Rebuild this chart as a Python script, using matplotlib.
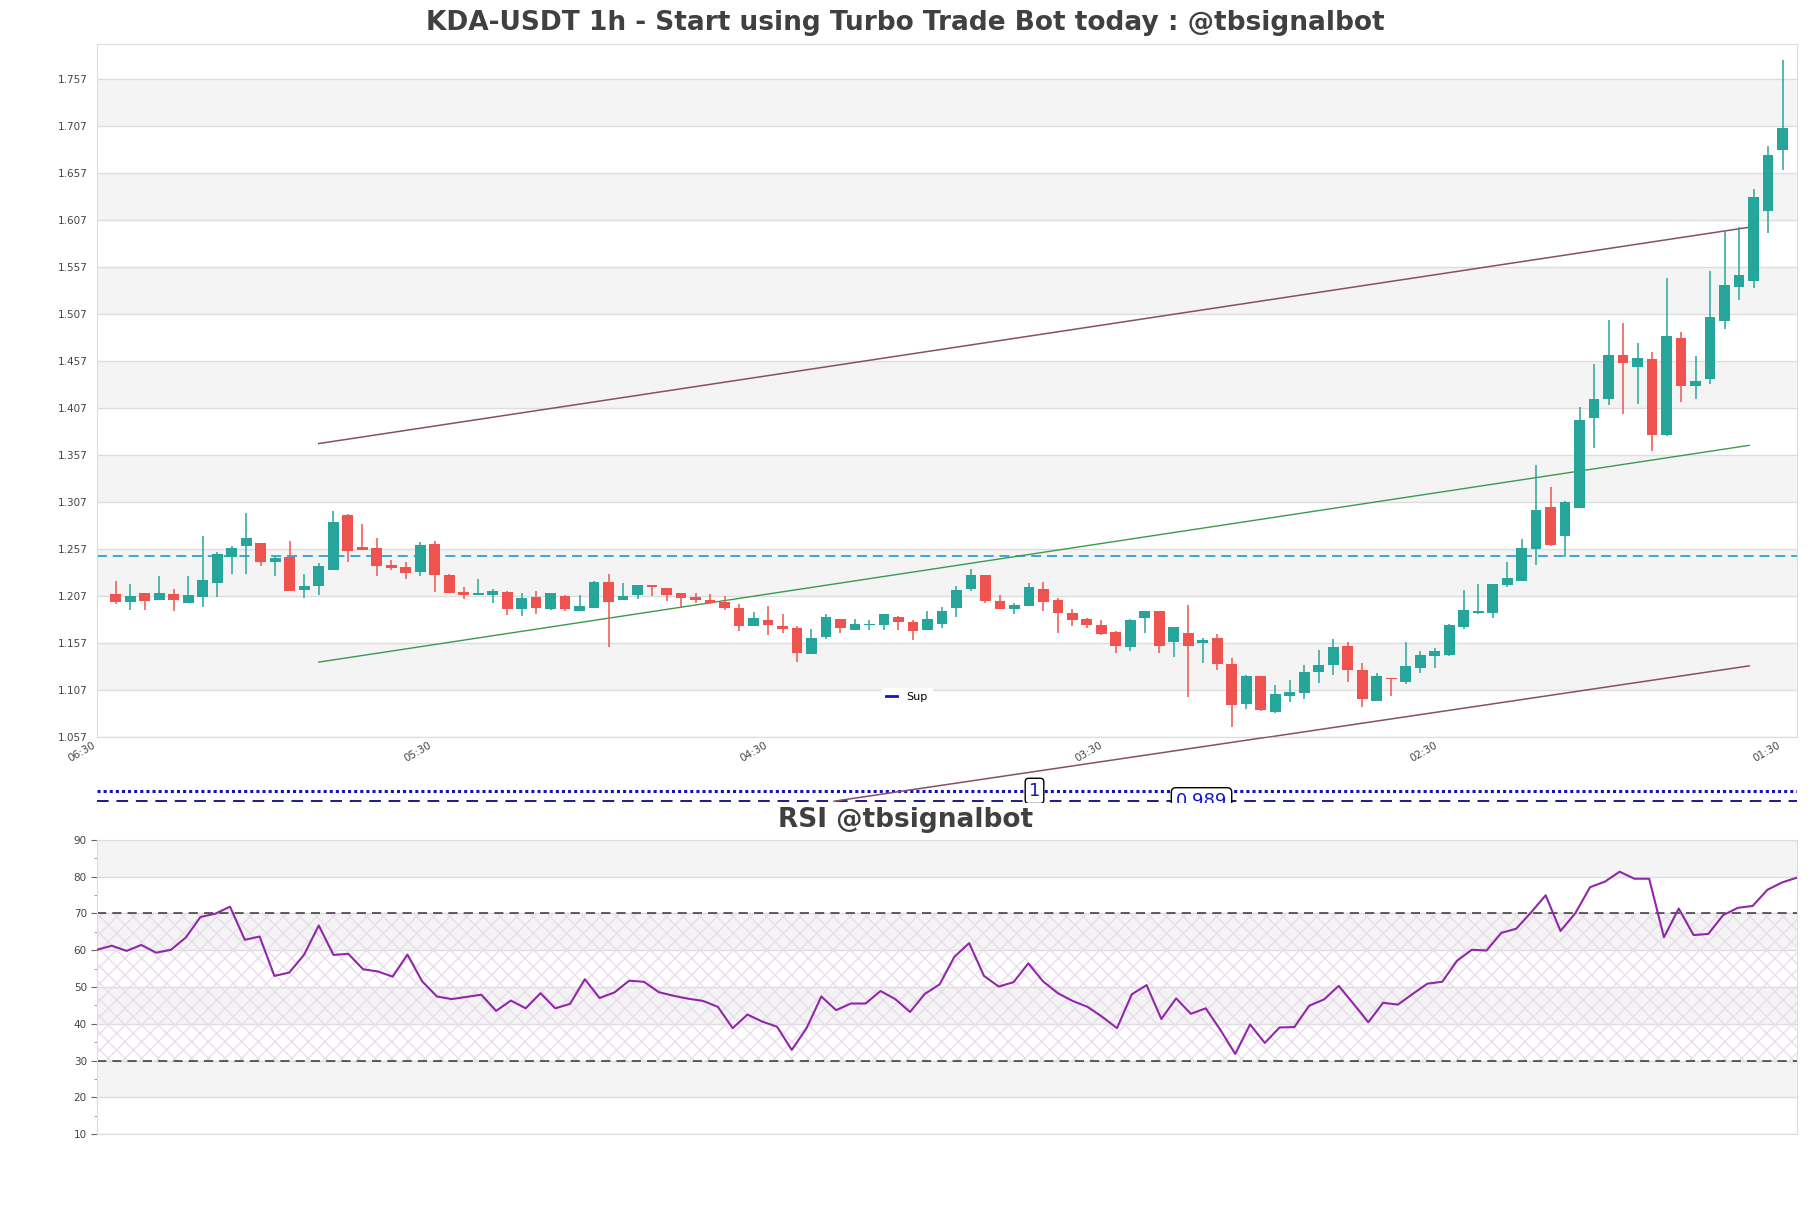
import matplotlib
matplotlib.use('Agg')
import matplotlib.pyplot as plt
from matplotlib.lines import Line2D
import numpy as np

# ---------------- data ----------------
opens = [1.209, 1.201, 1.211, 1.203, 1.209, 1.200, 1.206, 1.221, 1.249, 1.260,
         1.264, 1.243, 1.249, 1.214, 1.218, 1.235, 1.293, 1.259, 1.258, 1.240,
         1.238, 1.233, 1.263, 1.230, 1.212, 1.208, 1.208, 1.212, 1.193, 1.206,
         1.194, 1.207, 1.191, 1.195, 1.222, 1.203, 1.208, 1.219, 1.216, 1.210,
         1.206, 1.203, 1.201, 1.195, 1.175, 1.182, 1.175, 1.173, 1.146, 1.164,
         1.183, 1.171, 1.176, 1.176, 1.185, 1.180, 1.171, 1.178, 1.195, 1.215,
         1.230, 1.202, 1.194, 1.197, 1.215, 1.203, 1.189, 1.183, 1.177, 1.169,
         1.153, 1.184, 1.191, 1.158, 1.168, 1.157, 1.163, 1.135, 1.092, 1.122,
         1.084, 1.101, 1.104, 1.127, 1.134, 1.154, 1.129, 1.096, 1.120, 1.116,
         1.131, 1.144, 1.145, 1.174, 1.189, 1.189, 1.219, 1.223, 1.257, 1.302,
         1.271, 1.301, 1.397, 1.417, 1.464, 1.451, 1.459, 1.379, 1.482, 1.431,
         1.438, 1.500, 1.536, 1.542, 1.617, 1.682]
highs = [1.223, 1.220, 1.211, 1.229, 1.215, 1.229, 1.271, 1.254, 1.261, 1.296,
         1.264, 1.250, 1.266, 1.231, 1.242, 1.298, 1.295, 1.284, 1.269, 1.246,
         1.244, 1.265, 1.266, 1.231, 1.217, 1.225, 1.215, 1.213, 1.210, 1.213,
         1.210, 1.208, 1.208, 1.223, 1.231, 1.221, 1.219, 1.219, 1.216, 1.211,
         1.210, 1.209, 1.207, 1.199, 1.190, 1.197, 1.188, 1.175, 1.172, 1.188,
         1.183, 1.183, 1.182, 1.188, 1.186, 1.182, 1.191, 1.196, 1.218, 1.236,
         1.230, 1.208, 1.200, 1.221, 1.222, 1.205, 1.193, 1.184, 1.182, 1.170,
         1.183, 1.191, 1.191, 1.174, 1.198, 1.163, 1.167, 1.141, 1.123, 1.122,
         1.113, 1.118, 1.134, 1.150, 1.162, 1.158, 1.136, 1.125, 1.120, 1.158,
         1.149, 1.152, 1.178, 1.214, 1.220, 1.220, 1.244, 1.268, 1.347, 1.323,
         1.308, 1.408, 1.454, 1.501, 1.498, 1.477, 1.467, 1.546, 1.488, 1.463,
         1.553, 1.596, 1.600, 1.640, 1.686, 1.778]
lows = [1.199, 1.192, 1.192, 1.203, 1.191, 1.200, 1.196, 1.206, 1.231, 1.231,
        1.239, 1.229, 1.213, 1.205, 1.208, 1.235, 1.243, 1.256, 1.229, 1.235,
        1.225, 1.229, 1.212, 1.210, 1.204, 1.208, 1.200, 1.187, 1.186, 1.188,
        1.192, 1.191, 1.191, 1.195, 1.153, 1.203, 1.204, 1.207, 1.202, 1.195,
        1.200, 1.199, 1.192, 1.170, 1.175, 1.166, 1.168, 1.137, 1.146, 1.162,
        1.168, 1.171, 1.171, 1.171, 1.171, 1.161, 1.171, 1.173, 1.185, 1.213,
        1.200, 1.193, 1.188, 1.197, 1.191, 1.168, 1.175, 1.173, 1.166, 1.147,
        1.149, 1.168, 1.147, 1.142, 1.100, 1.136, 1.129, 1.068, 1.087, 1.085,
        1.083, 1.095, 1.098, 1.115, 1.123, 1.116, 1.089, 1.096, 1.101, 1.114,
        1.125, 1.131, 1.143, 1.172, 1.188, 1.184, 1.217, 1.223, 1.240, 1.261,
        1.249, 1.301, 1.365, 1.410, 1.401, 1.412, 1.362, 1.378, 1.414, 1.417,
        1.433, 1.491, 1.522, 1.535, 1.593, 1.660]
closes = [1.201, 1.207, 1.202, 1.211, 1.203, 1.208, 1.224, 1.252, 1.258, 1.269,
          1.244, 1.248, 1.213, 1.218, 1.239, 1.286, 1.255, 1.256, 1.239, 1.237,
          1.232, 1.262, 1.230, 1.210, 1.208, 1.211, 1.213, 1.194, 1.205, 1.195,
          1.210, 1.193, 1.197, 1.222, 1.201, 1.207, 1.219, 1.217, 1.208, 1.205,
          1.203, 1.200, 1.195, 1.175, 1.184, 1.177, 1.172, 1.147, 1.163, 1.185,
          1.173, 1.178, 1.178, 1.188, 1.180, 1.170, 1.183, 1.191, 1.214, 1.230,
          1.202, 1.193, 1.198, 1.217, 1.201, 1.189, 1.182, 1.176, 1.167, 1.154,
          1.182, 1.191, 1.154, 1.174, 1.154, 1.160, 1.135, 1.091, 1.122, 1.086,
          1.103, 1.105, 1.127, 1.134, 1.153, 1.129, 1.098, 1.122, 1.119, 1.133,
          1.145, 1.149, 1.176, 1.192, 1.191, 1.220, 1.227, 1.258, 1.299, 1.262,
          1.307, 1.395, 1.417, 1.464, 1.455, 1.460, 1.379, 1.484, 1.431, 1.436,
          1.504, 1.538, 1.549, 1.632, 1.677, 1.705]
rsi = [60.1, 61.2, 59.8, 61.4, 59.3, 60.1, 63.4, 69.0, 69.9, 71.8,
       62.8, 63.7, 53.0, 53.9, 58.7, 66.7, 58.7, 59.0, 54.8, 54.2,
       52.8, 58.8, 51.5, 47.4, 46.7, 47.3, 47.9, 43.5, 46.3, 44.2,
       48.3, 44.2, 45.4, 52.1, 47.0, 48.5, 51.7, 51.4, 48.6, 47.6,
       46.8, 46.2, 44.6, 38.8, 42.5, 40.6, 39.2, 32.9, 38.8, 47.4,
       43.7, 45.5, 45.5, 48.9, 46.7, 43.2, 48.1, 50.7, 58.2, 61.9,
       53.0, 50.1, 51.3, 56.4, 51.5, 48.3, 46.2, 44.6, 41.9, 38.8,
       48.0, 50.5, 41.3, 46.9, 42.7, 44.2, 38.3, 31.8, 39.8, 34.8,
       39.0, 39.1, 44.9, 46.6, 50.3, 45.4, 40.4, 45.7, 45.2, 48.1,
       50.9, 51.4, 57.1, 60.1, 59.9, 64.7, 65.8, 70.2, 74.9, 65.2,
       70.0, 77.1, 78.6, 81.3, 79.4, 79.4, 63.5, 71.3, 64.1, 64.4,
       69.5, 71.5, 72.0, 76.4, 78.4, 79.7]

time_labels = ['06:30', '05:30', '04:30', '03:30', '02:30', '01:30']
time_tick_pos = [-1.3, 21.9, 45.1, 68.2, 91.3, 115.0]
price_ticks = [round(1.057 + 0.05 * k, 3) for k in range(15)]
rsi_ticks = [10, 20, 30, 40, 50, 60, 70, 80, 90]

resistance_level = 1.25
upper_x, upper_y = [14, 112.7], [1.3695, 1.5996]
middle_x, middle_y = [14, 112.7], [1.137, 1.3676]
lower_x, lower_y = [49.7, 112.7], [0.989, 1.133]
level_one = 1.0
level_two = 0.989
level_one_x = 63.5
level_two_x = 75.0

# ---------------- figure ----------------
W, H = 1811, 1208
fig = plt.figure(figsize=(W / 100, H / 100), dpi=100)
fig.patch.set_facecolor('white')

def fx(px):
    return px / W

def fy(py):
    return 1 - py / H

left, right = 97, 1797
main_top, main_bot = 44, 737.3
ax = fig.add_axes([fx(left), fy(main_bot), fx(right - left), (main_bot - main_top) / H])

UP, DOWN = '#26a69a', '#ef5350'
n = len(opens)
x = np.arange(n)
o = np.array(opens); c = np.array(closes); h = np.array(highs); l = np.array(lows)
colors = [UP if cc >= oo else DOWN for oo, cc in zip(o, c)]
bottoms = np.minimum(o, c)
heights = np.maximum(np.abs(c - o), 0.0015)
ax.vlines(x, l, h, colors=colors, linewidth=1.1, zorder=3)
ax.bar(x, heights, bottom=bottoms, width=0.74, color=colors, linewidth=0, zorder=4)

ylo = 1.057
yhi = 1.057 + (main_bot - main_top) * 0.05 / 47.0
ax.set_ylim(ylo, yhi)
xlo, xhi = -1.05, 116.0
ax.set_xlim(xlo, xhi)

for k in range(7):
    ax.axhspan(1.107 + 0.1 * k, 1.157 + 0.1 * k, color='#f4f4f4', zorder=0, lw=0)
ax.set_yticks(price_ticks)
ax.set_yticklabels([f'{t:.3f}' for t in price_ticks])
ax.grid(axis='y', color='#dddddd', linewidth=1, zorder=1)
ax.set_axisbelow(True)
ax.tick_params(axis='y', length=0, pad=7, labelsize=7.5, labelcolor='#444444')
ax.set_xticks(time_tick_pos)
ax.set_xticklabels(time_labels, rotation=30, ha='right')
ax.tick_params(axis='x', length=0, pad=2, labelsize=7.5, labelcolor='#444444')
for s in ax.spines.values():
    s.set_color('#dddddd')

ax.axhline(resistance_level, color='#2196d8', linestyle=(0, (6, 3.5)), linewidth=1.2, zorder=2)
ax.plot(upper_x, upper_y, color='#875064', linewidth=1.1, zorder=2)
ax.plot(middle_x, middle_y, color='#3a9a50', linewidth=1.0, zorder=2)
ax.plot(lower_x, lower_y, color='#875064', linewidth=1.1, zorder=2)

# strip below the main chart (levels drawn in the price scale, clipped)
mid_bot = 803.3
ax_mid = fig.add_axes([fx(left), fy(mid_bot), fx(right - left), (mid_bot - main_bot) / H])
ax_mid.set_xlim(xlo, xhi)
ax_mid.set_ylim(ylo - (mid_bot - main_bot) * 0.05 / 47.0, ylo)
ax_mid.axis('off')
ax_mid.patch.set_alpha(0)
ax_mid.axhline(level_one, color='#1414b4', linestyle=(0, (1, 1)), linewidth=2.2)
ax_mid.axhline(level_two, color='#1a1a8c', linestyle=(0, (6, 4)), linewidth=1.4)
ax_mid.plot(lower_x, lower_y, color='#875064', linewidth=1.1)
ax_mid.text(level_one_x, level_one, '1', color='#1414c8', fontsize=13, ha='center', va='center',
            bbox=dict(boxstyle='round,pad=0.2', facecolor='white', edgecolor='black', linewidth=1),
            clip_on=True)
ax_mid.text(level_two_x, level_two, '0.989', color='#1414c8', fontsize=13, ha='center', va='center',
            bbox=dict(boxstyle='round,pad=0.25', facecolor='white', edgecolor='black', linewidth=1),
            clip_on=True)

fig.legend(handles=[Line2D([0], [0], color='#1414c8', linewidth=2)], labels=['Sup'],
           loc='center', bbox_to_anchor=(fx(907), fy(697)), fontsize=8, frameon=True,
           framealpha=1, edgecolor='white', facecolor='white', handlelength=1.0,
           handletextpad=0.8, borderpad=0.4)

fig.text(0.5, fy(23), 'KDA-USDT 1h - Start using Turbo Trade Bot today : @tbsignalbot',
         ha='center', va='center', fontsize=19, fontweight='bold', color='#404040')

# ---------------- RSI ----------------
r_top, r_bot = 839.7, 1134.2
axr = fig.add_axes([fx(left), fy(r_bot), fx(right - left), (r_bot - r_top) / H])
axr.set_xlim(0, n - 1)
axr.set_ylim(10, 90)
for lo_ in [20, 40, 60, 80]:
    axr.axhspan(lo_, lo_ + 10, color='#f4f4f4', zorder=0, lw=0)
axr.fill_between([0, n - 1], 30, 70, facecolor='none', edgecolor='#eadcec', hatch='xx',
                 linewidth=0, zorder=1)
axr.set_yticks(rsi_ticks)
axr.set_yticks([15, 25, 35, 45, 55, 65, 75, 85], minor=True)
axr.grid(axis='y', which='major', color='#dddddd', linewidth=1, zorder=1)
axr.set_axisbelow(True)
axr.axhline(70, color='#333333', linestyle=(0, (6, 4)), linewidth=1.1, zorder=2)
axr.axhline(30, color='#333333', linestyle=(0, (6, 4)), linewidth=1.1, zorder=2)
axr.plot(x, rsi, color='#9127a8', linewidth=1.5, zorder=3)
axr.set_xticks([])
axr.tick_params(axis='y', which='major', length=4.3, pad=3, labelsize=7.5,
                color='#666666', labelcolor='#444444')
axr.tick_params(axis='y', which='minor', length=2.5, color='#888888')
for s in axr.spines.values():
    s.set_color('#dddddd')

fig.text(0.5, fy(820), 'RSI @tbsignalbot', ha='center', va='center', fontsize=19,
         fontweight='bold', color='#404040')

fig.savefig('out.png', dpi=100)
